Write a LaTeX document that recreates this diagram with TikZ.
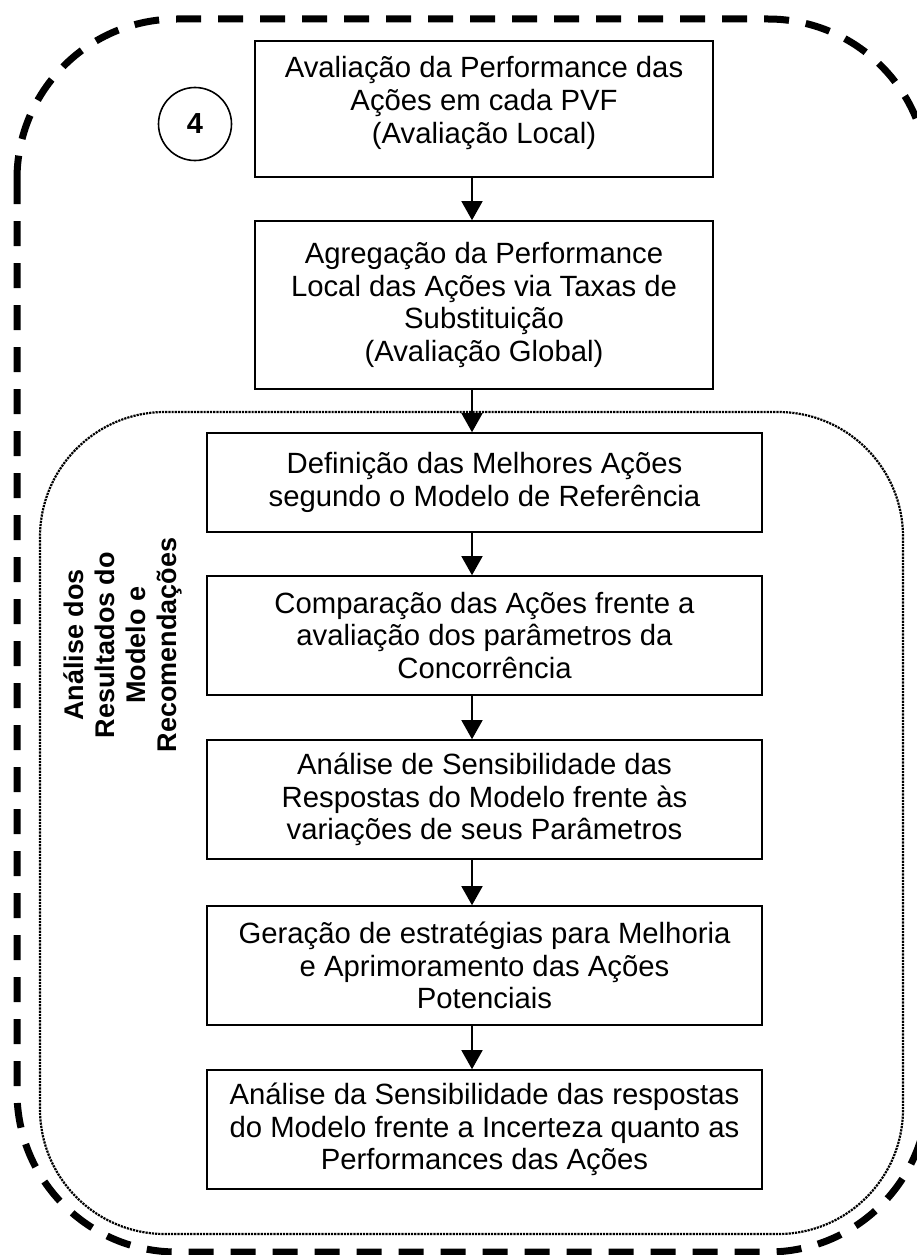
\documentclass[tikz,border=0pt]{standalone}
\usepackage{fontspec}
\setmainfont{Liberation Sans}
\usetikzlibrary{arrows.meta}
\newcommand{\liftedlines}[2]{\raisebox{#1}[\height][\depth]{\begin{tabular}{@{}c@{}}#2\end{tabular}}}
\begin{document}
\begin{tikzpicture}[x=1pt,y=-1pt,
  stepbox/.style={draw, line width=1.6pt, align=center, inner sep=0pt,
    font=\fontsize{29.3}{32.7}\selectfont},
  arr/.style={line width=1.5pt, -{Triangle[width=21pt,length=19pt]}},
  outerline/.style={line width=7pt, dash pattern=on 25pt off 17pt, line cap=butt},
  innerline/.style={line width=2.2pt, dash pattern=on 2.2pt off 1pt},
  numcircle/.style={draw, circle, line width=1.6pt, minimum size=73pt, inner sep=0pt,
    font=\fontsize{29}{32}\selectfont\bfseries},
  sidelabel/.style={align=center, rotate=90, font=\fontsize{27}{31}\selectfont\bfseries}]
\useasboundingbox (0,0) rectangle (917,1255);
\clip (0,0) rectangle (917,1255);
\fill[white] (0,0) rectangle (917,1255);

% outer dashed frame
\draw[outerline, rounded corners=160pt] (17,19) rectangle (928,1252);
% inner dotted frame
\draw[innerline, rounded corners=125pt] (40,412) rectangle (903,1234);

\coordinate (ax) at (472,0);

\node[numcircle] (num) at (195,124) {4};

\node[stepbox, minimum width=458pt, minimum height=136pt] (b1) at (484,109)
  {\liftedlines{5pt}{Avaliação da Performance das\\Ações em cada PVF\\(Avaliação Local)}};
\node[stepbox, minimum width=458pt, minimum height=168pt] (b2) at (484,305)
  {Agregação da Performance\\Local das Ações via Taxas de\\Substituição\\(Avaliação Global)};
\node[stepbox, minimum width=555pt, minimum height=99pt] (b3) at (484.5,482.5)
  {Definição das Melhores Ações\\segundo o Modelo de Referência};
\node[stepbox, minimum width=555pt, minimum height=119pt] (b4) at (484.5,635.5)
  {Comparação das Ações frente a\\avaliação dos parâmetros da\\Concorrência};
\node[stepbox, minimum width=555pt, minimum height=119pt] (b5) at (484.5,799.5)
  {Análise de Sensibilidade das\\Respostas do Modelo frente às\\variações de seus Parâmetros};
\node[stepbox, minimum width=555pt, minimum height=119pt] (b6) at (484.5,965.5)
  {Geração de estratégias para Melhoria\\e Aprimoramento das Ações\\Potenciais};
\node[stepbox, minimum width=555pt, minimum height=119pt] (b7) at (484.5,1129.5)
  {Análise da Sensibilidade das respostas\\do Modelo frente a Incerteza quanto as\\Performances das Ações};

\node[sidelabel] (side) at (123,645)
  {Análise dos\\Resultados do\\Modelo e\\Recomendações};

\draw[arr] (b1.south -| ax) -- (b2.north -| ax);
\draw[arr] (b2.south -| ax) -- (b3.north -| ax);
\draw[arr] (b3.south -| ax) -- (b4.north -| ax);
\draw[arr] (b4.south -| ax) -- (b5.north -| ax);
\draw[arr] (b5.south -| ax) -- (b6.north -| ax);
\draw[arr] (b6.south -| ax) -- (b7.north -| ax);
\end{tikzpicture}
\end{document}
